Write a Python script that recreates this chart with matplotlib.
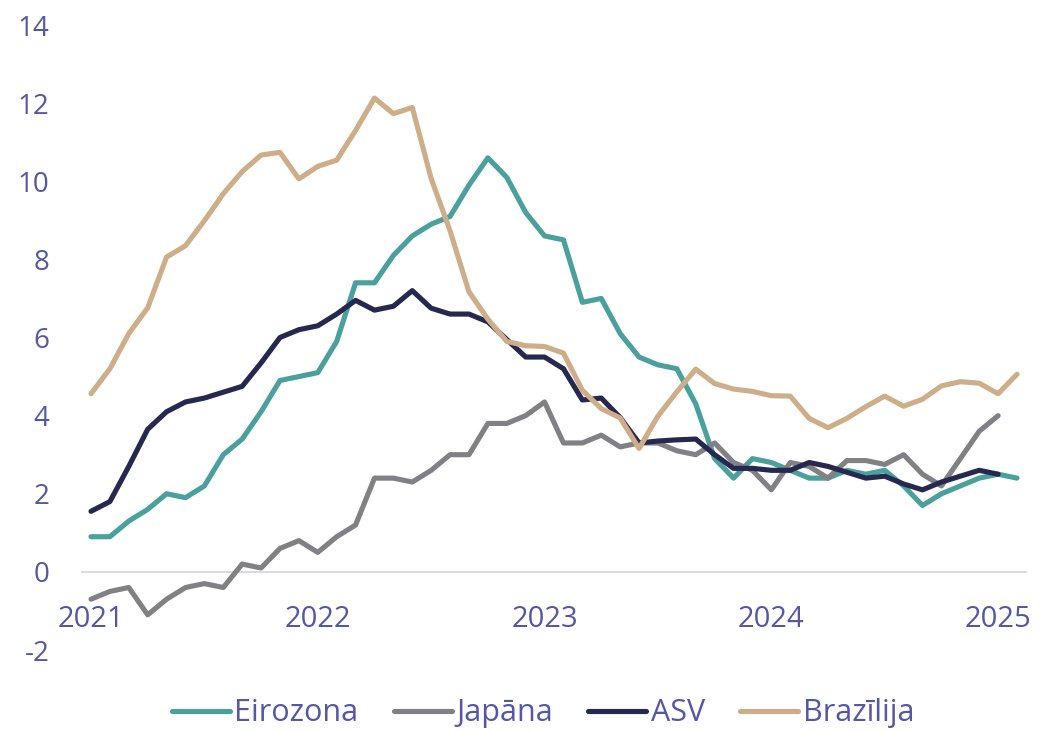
import numpy as np
import matplotlib.pyplot as plt

plt.rcParams['font.family'] = ['Open Sans', 'DejaVu Sans']

# inflācija, % gada izteiksmē, mēneša dati no 2021. gada janvāra
eirozona = [0.9, 0.9, 1.3, 1.6, 2.0, 1.9, 2.2, 3.0, 3.4, 4.1, 4.9, 5.0,
            5.1, 5.9, 7.4, 7.4, 8.1, 8.6, 8.9, 9.1, 9.9, 10.6, 10.1, 9.2,
            8.6, 8.5, 6.9, 7.0, 6.1, 5.5, 5.3, 5.2, 4.3, 2.9, 2.4, 2.9,
            2.8, 2.6, 2.4, 2.4, 2.6, 2.5, 2.6, 2.2, 1.7, 2.0, 2.2, 2.4,
            2.5, 2.4]
japana = [-0.7, -0.5, -0.4, -1.1, -0.7, -0.4, -0.3, -0.4, 0.2, 0.1, 0.6, 0.8,
          0.5, 0.9, 1.2, 2.4, 2.4, 2.3, 2.6, 3.0, 3.0, 3.8, 3.8, 4.0,
          4.35, 3.3, 3.3, 3.5, 3.2, 3.3, 3.3, 3.1, 3.0, 3.3, 2.8, 2.6,
          2.1, 2.8, 2.7, 2.4, 2.85, 2.85, 2.75, 3.0, 2.5, 2.2, 2.9, 3.6,
          4.0]
asv = [1.55, 1.8, 2.7, 3.65, 4.1, 4.35, 4.45, 4.6, 4.75, 5.35, 6.0, 6.2,
       6.3, 6.6, 6.95, 6.7, 6.8, 7.2, 6.75, 6.6, 6.6, 6.4, 5.95, 5.5,
       5.5, 5.2, 4.4, 4.45, 3.95, 3.3, 3.35, 3.38, 3.4, 3.0, 2.65, 2.65,
       2.6, 2.6, 2.8, 2.7, 2.55, 2.4, 2.45, 2.25, 2.1, 2.3, 2.45, 2.6,
       2.5]
brazilija = [4.56, 5.2, 6.1, 6.76, 8.06, 8.35, 8.99, 9.68, 10.25, 10.67, 10.74, 10.06,
             10.38, 10.54, 11.3, 12.13, 11.73, 11.89, 10.07, 8.73, 7.17, 6.47, 5.9, 5.79,
             5.77, 5.6, 4.65, 4.18, 3.94, 3.16, 3.99, 4.61, 5.19, 4.82, 4.68, 4.62,
             4.51, 4.5, 3.93, 3.69, 3.93, 4.23, 4.5, 4.24, 4.42, 4.76, 4.87, 4.83,
             4.56, 5.06]

gadi = ['2021', '2022', '2023', '2024', '2025']
y_ticks = [-2, 0, 2, 4, 6, 8, 10, 12, 14]

teksts = '#5457a8'

fig = plt.figure(figsize=(10.4, 7.31), dpi=100)
ax = fig.add_axes([0.0784, 0.1108, 0.9086, 0.855])

serijas = [(eirozona, 'Eirozona', '#49a09d'),
           (japana, 'Japāna', '#818085'),
           (asv, 'ASV', '#27284f'),
           (brazilija, 'Brazīlija', '#cdae88')]
for vert, nos, krasa in serijas:
    ax.plot(np.arange(len(vert)), vert, color=krasa, lw=3.7,
            solid_capstyle='round', solid_joinstyle='round', label=nos)

ax.set_xlim(-0.5, 49.5)
ax.set_ylim(-2, 14)
ax.set_yticks(y_ticks)
ax.set_yticklabels([str(v) for v in y_ticks])
ax.set_xticks(np.arange(len(gadi)) * 12)
ax.set_xticklabels(gadi)

for s in ['top', 'right', 'left']:
    ax.spines[s].set_visible(False)
ax.spines['bottom'].set_position(('data', 0))
ax.spines['bottom'].set_color('#d5d5ea')
ax.spines['bottom'].set_linewidth(1.3)
ax.spines['bottom'].set_zorder(0)

ax.tick_params(axis='y', length=0, pad=23, labelsize=20, labelcolor=teksts)
ax.tick_params(axis='x', length=0, pad=24, labelsize=21, labelcolor=teksts)

leg = fig.legend(loc='center', bbox_to_anchor=(0.522, 0.024), ncol=4, frameon=False,
                 fontsize=22, handlelength=1.9, handletextpad=0.15, columnspacing=1.15,
                 labelcolor=teksts)

plt.savefig('out.png', dpi=100)
